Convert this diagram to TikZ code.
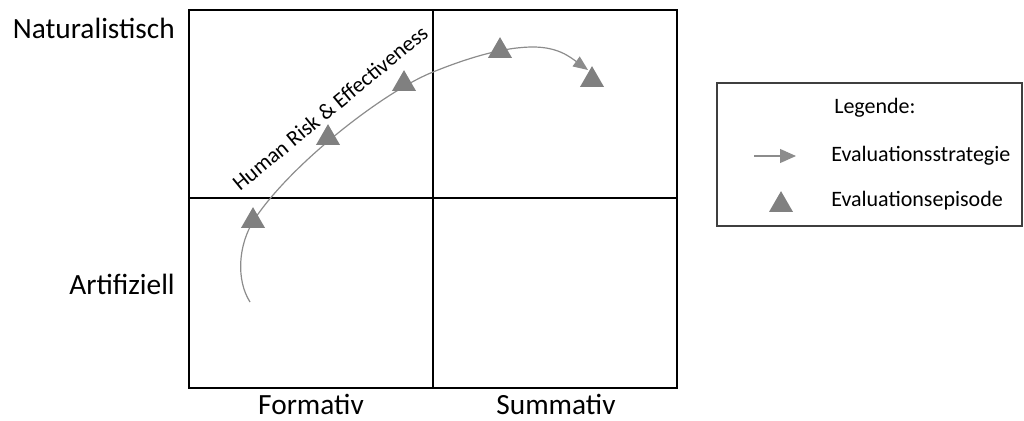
\documentclass[tikz,border=0pt]{standalone}
\usepackage{fontspec}
\setmainfont{Carlito}
\usetikzlibrary{arrows.meta,shapes.geometric}

\definecolor{episode}{HTML}{808080}
\definecolor{strategy}{HTML}{8C8C8C}
\definecolor{framegray}{HTML}{3F3F3F}

\tikzset{
  grid line/.style={line width=1.8pt, black},
  axis label/.style={font=\fontsize{22}{26}\selectfont, inner sep=0pt},
  small label/.style={font=\fontsize{16.5}{19}\selectfont, inner sep=0pt},
  episode/.style={regular polygon, regular polygon sides=3, minimum size=20.8pt,
    inner sep=0pt, fill=episode, draw=none},
  strategy/.style={draw=strategy, line width=0.9pt},
}

\begin{document}
\begin{tikzpicture}[x=0.75pt, y=-0.75pt]
  \useasboundingbox (0,0) rectangle (1024,421);

  % four-quadrant frame
  \coordinate (nw) at (189,10);
  \coordinate (se) at (677,388);
  \draw[grid line] (nw) rectangle (se);
  \draw[grid line] (433,10) -- (433,388);
  \draw[grid line] (189,198) -- (677,198);

  % axis labels
  \node[axis label, anchor=east] (nat) at (175,28) {Naturalistisch};
  \node[axis label, anchor=east] (art) at (175,284) {Artifiziell};
  \node[axis label, anchor=base] (form) at (311,414) {Formativ};
  \node[axis label, anchor=base] (summ) at (556,414) {Summativ};

  % evaluation strategy curve
  \coordinate (s0) at (250,302);
  \coordinate (s1) at (254,220);
  \coordinate (s2) at (433,72);
  \coordinate (s3) at (533,47);
  \coordinate (s4) at (588,70);
  \draw[strategy, -{Triangle[length=11pt,width=9pt]}]
    (s0) .. controls (236,280) and (238,245) .. (s1)
         .. controls (290,165) and (383,92) .. (s2)
         .. controls (470,57) and (505,47) .. (s3)
         .. controls (558,47) and (570,57) .. (s4);

  \node[small label, rotate=39.5] (hre) at (330,108) {Human Risk \& Effectiveness};

  % evaluation episodes
  \node[episode] (e1) at (253,221) {};
  \node[episode] (e2) at (328,138) {};
  \node[episode] (e3) at (404,84) {};
  \node[episode] (e4) at (500,51) {};
  \node[episode] (e5) at (592,80) {};

  % legend
  \draw[draw=framegray, line width=1pt] (717,83) rectangle (1022,226);
  \node[small label, anchor=west] (leg) at (834,108) {Legende:};
  \node[small label, anchor=west] (ls) at (831,156) {Evaluationsstrategie};
  \node[small label, anchor=west] (le) at (831,201) {Evaluationsepisode};
  \coordinate (la) at (754,156);
  \coordinate (lb) at (796,156);
  \draw[strategy, -{Triangle[length=12pt,width=10.5pt]}] (la) -- (lb);
  \node[episode] (lt) at (781,205) {};
\end{tikzpicture}
\end{document}
